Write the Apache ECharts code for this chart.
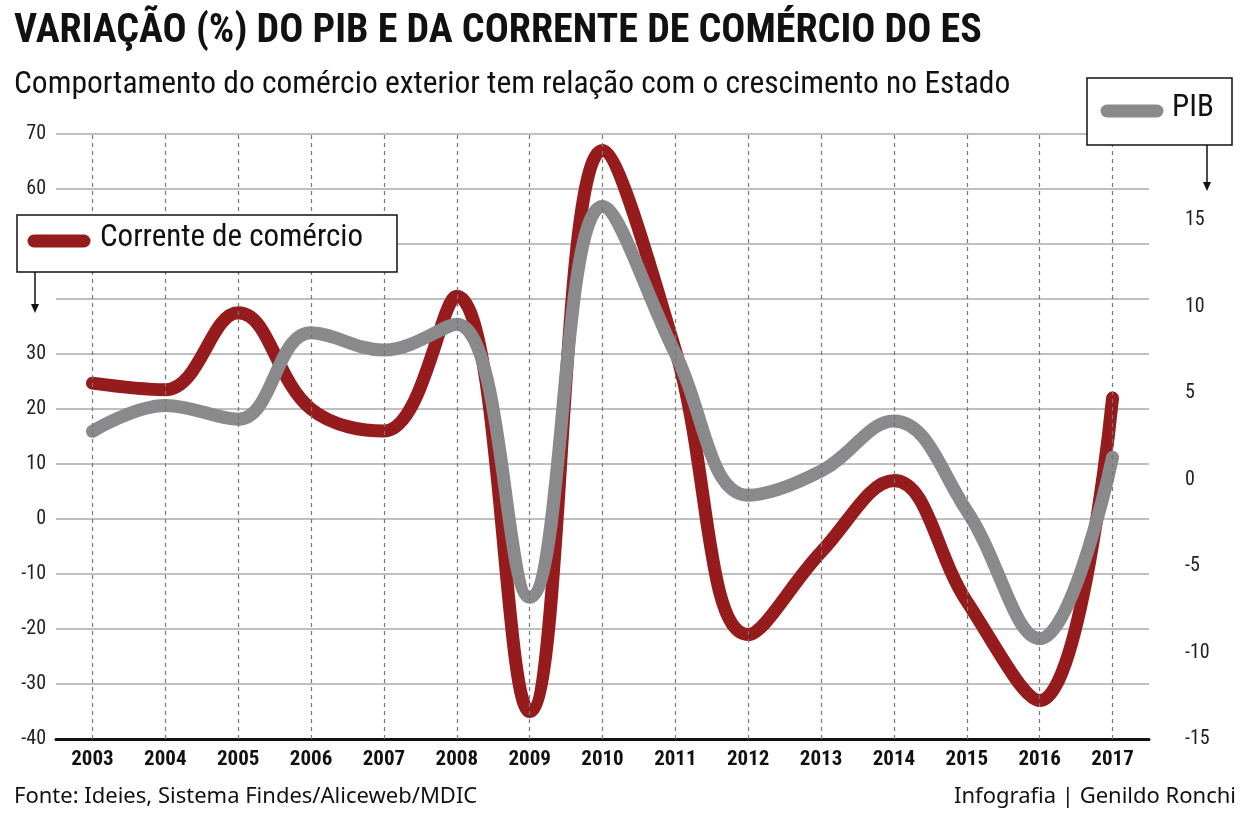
<!DOCTYPE html><html><head><meta charset="utf-8"><script src="https://cdn.jsdelivr.net/npm/echarts@6/dist/echarts.min.js"></script>
<style>body{margin:0}#c{width:1244px;height:826px}</style></head><body><div id="c"></div><script>
const years=['2003','2004','2005','2006','2007','2008','2009','2010','2011','2012','2013','2014','2015','2016','2017'];
const corrente=[24.7,23.5,37.5,20,16,40.5,-35,67,30.7,-21,-6,7,-15,-33,22];
const pib=[2.8,4.3,3.5,8.5,7.5,9,-6.8,15.8,7.3,-0.9,0.5,3.4,-1.8,-9.2,1.3];
const hiddenLeftLabels=[40,50];
const F='"Liberation Sans Narrow","Roboto Condensed","Roboto",sans-serif';
const ch=echarts.init(document.getElementById('c'));
ch.setOption({animation:false,
grid:{left:56,right:95,top:134,bottom:87},
xAxis:{type:'category',data:years,boundaryGap:true,axisLine:{onZero:false,lineStyle:{color:'#111',width:3}},axisTick:{show:false},
 axisLabel:{color:'#111',fontFamily:F,fontWeight:'bold',fontSize:21,margin:10}},
yAxis:[{type:'value',min:-40,max:70,interval:10,axisLine:{show:false},axisTick:{show:false},
 axisLabel:{color:'#222',fontFamily:F,fontSize:20,margin:10,formatter:v=>hiddenLeftLabels.includes(v)?'':String(v)},splitLine:{lineStyle:{color:'#aaa',width:1.5}}},
 {type:'value',min:-15,max:20,interval:5,position:'right',axisLine:{show:false},axisTick:{show:false},splitLine:{show:false},
 axisLabel:{color:'#222',fontFamily:F,fontSize:20,margin:36,showMaxLabel:false}}],
series:[{type:'line',data:corrente,yAxisIndex:0,smooth:0.4,symbol:'none',lineStyle:{color:'#951b1d',width:13,cap:'round'},
 markLine:{silent:true,symbol:'none',label:{show:false},lineStyle:{color:'#777',type:[4,4],width:1.2},data:years.map(y=>({xAxis:y}))}},
 {type:'line',data:pib,yAxisIndex:1,smooth:0.4,symbol:'none',lineStyle:{color:'#8a8a8c',width:13,cap:'round'}}],
graphic:[
 {type:'text',left:14,top:12,z:100,style:{text:'VARIAÇÃO (%) DO PIB E DA CORRENTE DE COMÉRCIO DO ES',font:'bold 40px '+F,fill:'#111'}},
 {type:'text',left:14,top:69,z:100,style:{text:'Comportamento do comércio exterior tem relação com o crescimento no Estado',font:'31.5px '+F,fill:'#111'}},
 {type:'rect',z:100,shape:{x:17,y:215,width:380,height:57},style:{fill:'#fff',stroke:'#111',lineWidth:1.5}},
 {type:'line',z:101,shape:{x1:34,y1:241,x2:84,y2:241},style:{stroke:'#951b1d',lineWidth:13,lineCap:'round'}},
 {type:'text',z:101,left:100,top:223,style:{text:'Corrente de comércio',font:'31px '+F,fill:'#111'}},
 {type:'line',z:100,shape:{x1:35,y1:272,x2:35,y2:308},style:{stroke:'#111',lineWidth:1.5}},
 {type:'polygon',z:100,shape:{points:[[31,304],[39,304],[35,313]]},style:{fill:'#111'}},
 {type:'rect',z:100,shape:{x:1087,y:78,width:145,height:67},style:{fill:'#fff',stroke:'#111',lineWidth:1.5}},
 {type:'line',z:101,shape:{x1:1107,y1:111,x2:1157,y2:111},style:{stroke:'#8a8a8c',lineWidth:13,lineCap:'round'}},
 {type:'text',z:101,left:1172,top:93,style:{text:'PIB',font:'31px '+F,fill:'#111'}},
 {type:'line',z:100,shape:{x1:1207,y1:145,x2:1207,y2:186},style:{stroke:'#111',lineWidth:1.5}},
 {type:'polygon',z:100,shape:{points:[[1203,182],[1211,182],[1207,191]]},style:{fill:'#111'}},
 {type:'text',left:14,top:786,z:100,style:{text:'Fonte: Ideies, Sistema Findes/Aliceweb/MDIC',font:'22px "Noto Sans",sans-serif',fill:'#111'}},
 {type:'text',right:8,top:786,z:100,style:{text:'Infografia | Genildo Ronchi',font:'22px "Noto Sans",sans-serif',fill:'#111'}}
]});
</script></body></html>
